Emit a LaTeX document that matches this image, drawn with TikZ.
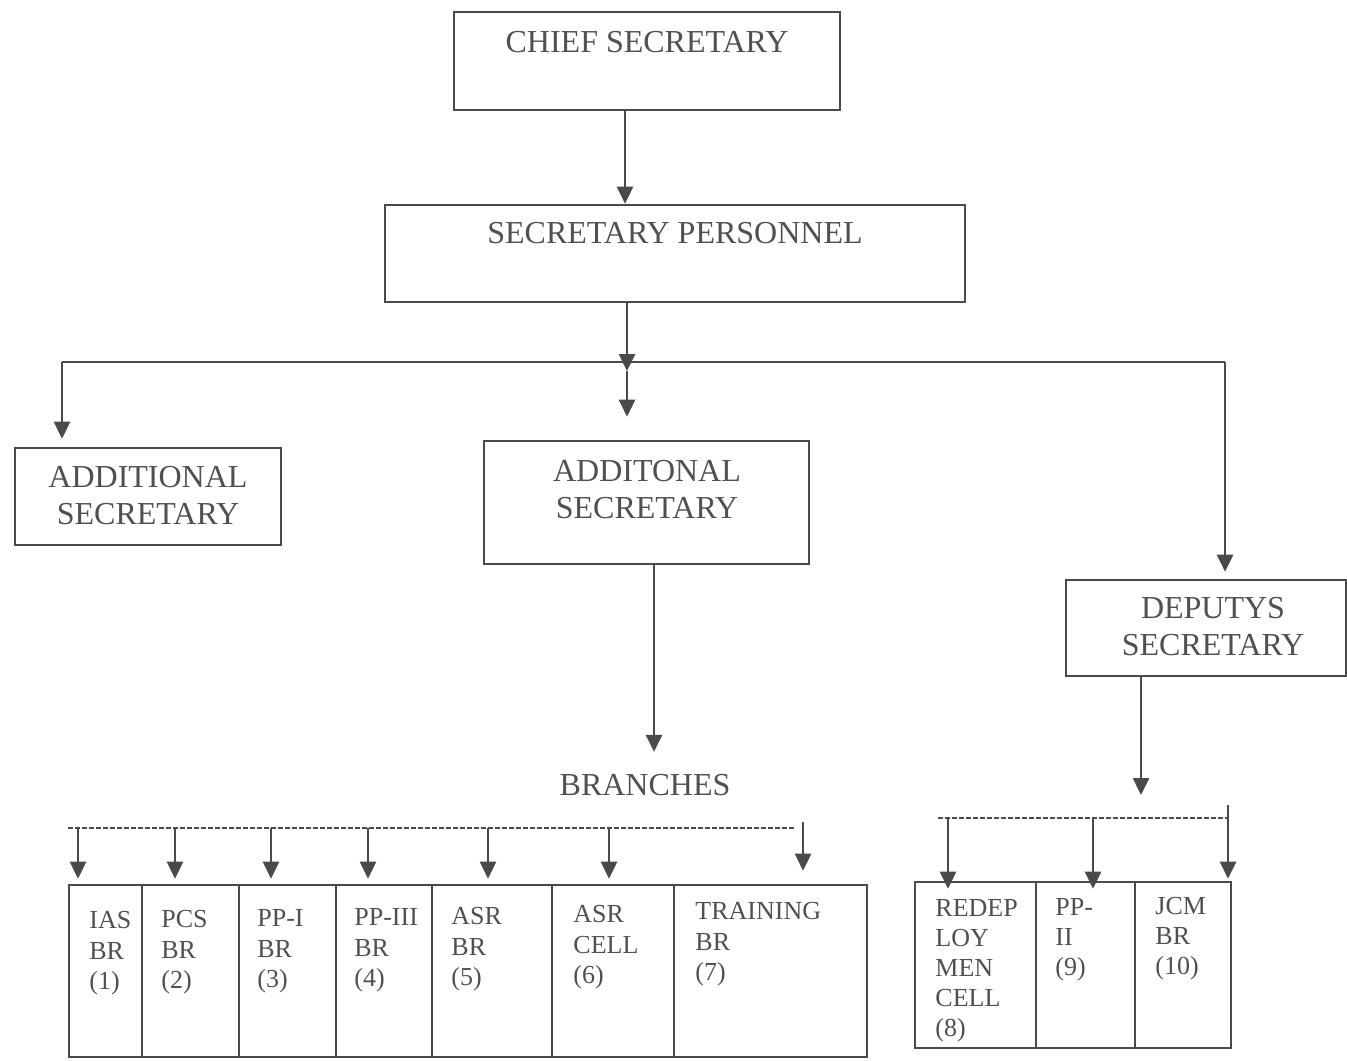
\documentclass[tikz,border=0pt]{standalone}
\usepackage{fontspec}
\setmainfont{Liberation Serif}
\usetikzlibrary{arrows.meta,calc}
\definecolor{ink}{HTML}{4A4A4A}
\definecolor{txt}{HTML}{505050}
\begin{document}
\begin{tikzpicture}[x=0.5pt,y=-0.5pt,
  box/.style={draw=ink, line width=1.3pt, rectangle, inner sep=0pt},
  big/.style={text=txt, font=\fontsize{16}{18.5}\selectfont, align=center, inner sep=0pt},
  small/.style={text=txt, font=\fontsize{13}{15.3}\selectfont, align=left, inner sep=0pt, anchor=north west},
  arr/.style={draw=ink, line width=1.3pt, -{Triangle[length=8.5pt,width=8pt]}},
  plain/.style={draw=ink, line width=1.3pt},
  dashbar/.style={draw=ink, line width=0.9pt, dash pattern=on 2.5pt off 1pt}
]
\fill[white] (0,0) rectangle (1347,1060);
\useasboundingbox (0,0) rectangle (1347,1060);

% top boxes
\node[box, minimum width=193pt, minimum height=49pt] (cs) at (647,61) {};
\node[big] (cst) at (647,42) {CHIEF SECRETARY};
\node[box, minimum width=290pt, minimum height=48.5pt] (sp) at (675,253.5) {};
\node[big] (spt) at (675,233) {SECRETARY PERSONNEL};
\node[box, minimum width=133pt, minimum height=48.5pt] (as1) at (148,496.5) {};
\node[big] (as1t) at (148,496) {ADDITIONAL\\SECRETARY};
\node[box, minimum width=162.5pt, minimum height=61.5pt] (as2) at (646.5,502.5) {};
\node[big] (as2t) at (647,490) {ADDITONAL\\SECRETARY};
\node[box, minimum width=140pt, minimum height=48pt] (ds) at (1206,628) {};
\node[big] (dst) at (1213,627) {DEPUTYS\\SECRETARY};
\node[big] (br) at (645,785) {BRANCHES};

% connectors top
\coordinate (c0) at (625,0);
\draw[arr] (cs.south -| c0) -- (sp.north -| c0);
\coordinate (jn) at (627,371);
\draw[arr] (sp.south -| jn) -- (jn);
\draw[arr, shorten >=11.5pt] (jn) -- (as2.north -| jn);
\coordinate (hl) at (62,362);
\coordinate (hr) at (1225,362);
\draw[plain] (hl) -- (hr);
\draw[arr, shorten >=4pt] (hl) -- (as1.north -| hl);
\draw[arr, shorten >=3.5pt] (hr) -- (ds.north -| hr);
\coordinate (c1) at (654,0);
\draw[arr, shorten >=11pt] (as2.south -| c1) -- (br.north -| c1);

% branch cells
\node[box, minimum width=36.5pt, minimum height=86pt] (b1) at (105.5,971) {};
\node[box, minimum width=48.5pt, minimum height=86pt] (b2) at (190.5,971) {};
\node[box, minimum width=48.5pt, minimum height=86pt] (b3) at (287.5,971) {};
\node[box, minimum width=48pt, minimum height=86pt] (b4) at (384,971) {};
\node[box, minimum width=60pt, minimum height=86pt] (b5) at (492,971) {};
\node[box, minimum width=61pt, minimum height=86pt] (b6) at (613,971) {};
\node[box, minimum width=96.5pt, minimum height=86pt] (b7) at (770.5,971) {};
\node[small] (b1t) at (89,911) {IAS\\BR\\(1)};
\node[small] (b2t) at (161,910) {PCS\\BR\\(2)};
\node[small] (b3t) at (257,909) {PP-I\\BR\\(3)};
\node[small] (b4t) at (354,908) {PP-III\\BR\\(4)};
\node[small] (b5t) at (451,907) {ASR\\BR\\(5)};
\node[small] (b6t) at (573,905) {ASR\\CELL\\(6)};
\node[small] (b7t) at (695,902) {TRAINING\\BR\\(7)};

% branch dashed bar and arrows
\coordinate (dl) at (68,828);
\coordinate (dr) at (795,828);
\draw[dashbar] (dl) -- (dr);
\coordinate (t1) at (78,828);
\coordinate (t2) at (175,828);
\coordinate (t3) at (271,828);
\coordinate (t4) at (368,828);
\coordinate (t5) at (488,828);
\coordinate (t6) at (609,828);
\coordinate (t7) at (803,822);
\draw[arr, shorten >=2.5pt] (t1) -- (t1 |- b1.north);
\draw[arr, shorten >=2.5pt] (t2) -- (t2 |- b2.north);
\draw[arr, shorten >=2.5pt] (t3) -- (t3 |- b3.north);
\draw[arr, shorten >=2.5pt] (t4) -- (t4 |- b4.north);
\draw[arr, shorten >=2.5pt] (t5) -- (t5 |- b5.north);
\draw[arr, shorten >=2.5pt] (t6) -- (t6 |- b6.north);
\draw[arr, shorten >=6.5pt] (t7) -- (t7 |- b7.north);

% deputy group
\coordinate (d0) at (1141,795);
\draw[arr] (ds.south -| d0) -- (d0);
\node[box, minimum width=60.5pt, minimum height=83pt] (r8) at (975.5,965) {};
\node[box, minimum width=49.5pt, minimum height=83pt] (r9) at (1085.5,965) {};
\node[box, minimum width=48pt, minimum height=83pt] (r10) at (1183,965) {};
\node[small, font=\fontsize{13}{15}\selectfont] (r8t) at (935,899) {REDEP\\LOY\\MEN\\CELL\\(8)};
\node[small, font=\fontsize{13}{15}\selectfont] (r9t) at (1055,898) {PP-\\II\\(9)};
\node[small, font=\fontsize{13}{15}\selectfont] (r10t) at (1155,897) {JCM\\BR\\(10)};
\coordinate (el) at (938,818);
\coordinate (er) at (1228,818);
\draw[dashbar] (el) -- (er);
\coordinate (u8) at (948,818);
\coordinate (u9) at (1093,818);
\coordinate (u10) at (1228,805);
\draw[arr, shorten >=-4pt] (u8) -- (u8 |- r8.north);
\draw[arr, shorten >=-4pt] (u9) -- (u9 |- r9.north);
\draw[arr, shorten >=1pt] (u10) -- (u10 |- r10.north);
\end{tikzpicture}
\end{document}
